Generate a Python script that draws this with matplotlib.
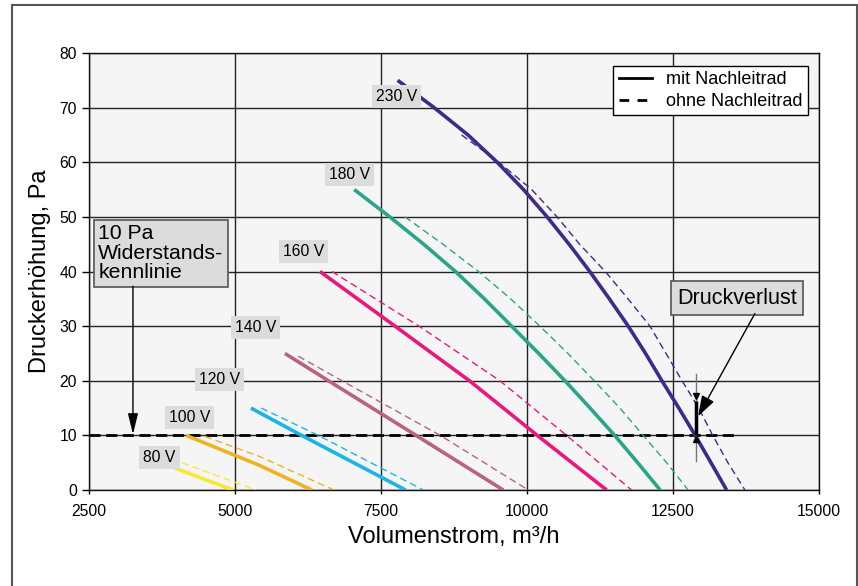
import matplotlib
matplotlib.use("Agg")
import matplotlib.pyplot as plt
from matplotlib.lines import Line2D
from matplotlib.patches import Rectangle

plt.rcParams['font.family'] = ['Liberation Sans', 'DejaVu Sans']

# ---- data ----
voltages = ["230 V", "180 V", "160 V", "140 V", "120 V", "100 V", "80 V"]
colors = ["#3d2a8b", "#2aa58a", "#e8197e", "#b8647f", "#1cb4e8", "#eeb224", "#f5ea2e"]

q230_solid = [7785, 8410, 8990, 9490, 9940, 10345, 10720, 11075, 11410, 11733, 12030, 12310,
              12600, 12880, 13150, 13418]
p230_solid = [75, 70, 65, 60, 55, 50, 45, 40, 35, 30, 25, 20, 15, 10, 5, 0]
q230_dash = [8880, 9520, 10080, 10515, 10900, 11340, 11730, 12105, 12380, 12655, 12940, 13180,
             13440, 13731]
p230_dash = [65, 60, 55, 50, 45, 40, 35, 30, 25, 20, 15, 10, 5, 0]

q180_solid = [7042, 7650, 8230, 8775, 9270, 9736, 10200, 10650, 11080, 11500, 11895, 12280]
p180_solid = [55, 50, 45, 40, 35, 30, 25, 20, 15, 10, 5, 0]
q180_dash = [7910, 8560, 9170, 9720, 10220, 10700, 11150, 11590, 11990, 12390, 12760]
p180_dash = [50, 45, 40, 35, 30, 25, 20, 15, 10, 5, 0]

q160_solid = [6455, 7740, 9014, 10175, 11363]
p160_solid = [40, 30, 20, 10, 0]
q160_dash = [6660, 8150, 9536, 10677, 11790]
p160_dash = [40, 30, 20, 10, 0]

q140_solid = [5855, 6600, 8100, 9593]
p140_solid = [25, 20, 10, 0]
q140_dash = [6083, 6831, 8514, 10021]
p140_dash = [24.5, 20, 10, 0]

q120_solid = [5273, 6141, 7922]
p120_solid = [15, 10, 0]
q120_dash = [5450, 6426, 8224]
p120_dash = [15, 10, 0]

q100_solid = [4161, 5400, 6318]
p100_solid = [10, 4.6, 0]
q100_dash = [4486, 5428, 6694]
p100_dash = [9.8, 6.1, 0]

q80_solid = [3972, 4965]
p80_solid = [4, 0]
q80_dash = [4092, 5358]
p80_dash = [5, 0]

solid_q = [q230_solid, q180_solid, q160_solid, q140_solid, q120_solid, q100_solid, q80_solid]
solid_p = [p230_solid, p180_solid, p160_solid, p140_solid, p120_solid, p100_solid, p80_solid]
dash_q = [q230_dash, q180_dash, q160_dash, q140_dash, q120_dash, q100_dash, q80_dash]
dash_p = [p230_dash, p180_dash, p160_dash, p140_dash, p120_dash, p100_dash, p80_dash]

label_x = [7773, 6968, 6172, 5350, 4734, 4221, 3707]
label_y = [72.1, 57.7, 43.7, 29.7, 20.2, 13.2, 5.9]

ref_q = [2500, 13611]
ref_p = [10, 10]

druck_x = 12887
druck_p = [10, 16.3]
druck_guide = [5.3, 21.2]

xticks = [2500, 5000, 7500, 10000, 12500, 15000]
yticks = [0, 10, 20, 30, 40, 50, 60, 70, 80]

# ---- figure ----
fig = plt.figure(figsize=(8.58, 5.86), dpi=100)
fig.patch.set_facecolor("white")
ax = fig.add_axes([89/858, 1-490/586, (819-89)/858, (490-53)/586])
ax.set_facecolor("#f5f5f5")

fig.patches.append(Rectangle((12/858, -0.1), (857-12)/858, 1.1 - 4.7/586,
                             transform=fig.transFigure, fill=False,
                             edgecolor="#555555", lw=1.5, zorder=0))

ax.set_xlim(2500, 15000)
ax.set_ylim(0, 80)
ax.set_xticks(xticks)
ax.set_yticks(yticks)
ax.grid(True, color="#222222", lw=1, zorder=1)
ax.set_axisbelow(True)
for s in ax.spines.values():
    s.set_color("#111111")
    s.set_linewidth(1)
ax.tick_params(axis="y", direction="out", length=5, width=1, pad=3.5, labelsize=11.3)
ax.tick_params(axis="x", direction="out", length=3, width=1, pad=7, labelsize=11.3)

# reference resistance line
ax.plot(ref_q, ref_p, color="black", lw=2, dashes=(4, 2), zorder=3)

for q, p, c in zip(dash_q, dash_p, colors):
    ax.plot(q, p, color=c, lw=1, dashes=(5, 3), zorder=4)
for q, p, c in zip(solid_q, solid_p, colors):
    ax.plot(q, p, color=c, lw=2.6, zorder=5, solid_capstyle="butt", solid_joinstyle="round")

for t, x, y in zip(voltages, label_x, label_y):
    ax.text(x, y, t, ha="center", va="center", fontsize=11.3, zorder=6,
            bbox=dict(boxstyle="square,pad=0.25", facecolor="#dcdcdc", edgecolor="none"))

# Druckverlust marker
ax.plot([druck_x, druck_x], druck_guide, color="#777777", lw=1, zorder=6)
ax.plot([druck_x, druck_x], druck_p, color="black", lw=2.5, zorder=7, solid_capstyle="butt")
ax.plot([druck_x], [druck_p[1] + 0.9], marker="v", ms=4, color="black", zorder=7)
ax.plot([druck_x], [druck_p[0] - 0.7], marker="^", ms=4, color="black", zorder=7)

# 10 Pa annotation
ax.text(2660, 48.7, "10 Pa\nWiderstands-\nkennlinie", ha="left", va="top", fontsize=15.3,
        linespacing=1.05, zorder=8,
        bbox=dict(boxstyle="square,pad=0.2", facecolor="#dcdcdc", edgecolor="#555555", lw=1.2))
ax.annotate("", xy=(3253, 10.2), xytext=(3253, 37.3),
            arrowprops=dict(arrowstyle="-|>,head_length=0.9,head_width=0.22", color="black",
                            lw=1, shrinkA=0, shrinkB=0, mutation_scale=14), zorder=8)

# Druckverlust annotation
ax.text(13594, 35.1, "Druckverlust", ha="center", va="center", fontsize=15.5, zorder=8,
        bbox=dict(boxstyle="square,pad=0.3", facecolor="#dcdcdc", edgecolor="#555555", lw=1.2))
ax.annotate("", xy=(12930, 13.5), xytext=(13902, 32.3),
            arrowprops=dict(arrowstyle="-|>,head_length=0.9,head_width=0.3", color="black",
                            lw=1, shrinkA=0, shrinkB=0, mutation_scale=14), zorder=8)

ax.set_xlabel("Volumenstrom, m³/h", fontsize=17, labelpad=5)
ax.set_ylabel("Druckerhöhung, Pa", fontsize=17, labelpad=6)

handles = [Line2D([0], [0], color="black", lw=2),
           Line2D([0], [0], color="black", lw=2, dashes=(3.5, 3))]
leg = ax.legend(handles, ["mit Nachleitrad", "ohne Nachleitrad"], loc="upper right",
                bbox_to_anchor=(808/858, 1-66/586), bbox_transform=fig.transFigure,
                fontsize=13, frameon=True, fancybox=False, framealpha=1,
                edgecolor="black", borderpad=0.3, handlelength=1.83, handletextpad=0.8,
                labelspacing=0.25, borderaxespad=0)
leg.get_frame().set_linewidth(1)
leg.set_zorder(10)

fig.savefig("out.png", dpi=100)
